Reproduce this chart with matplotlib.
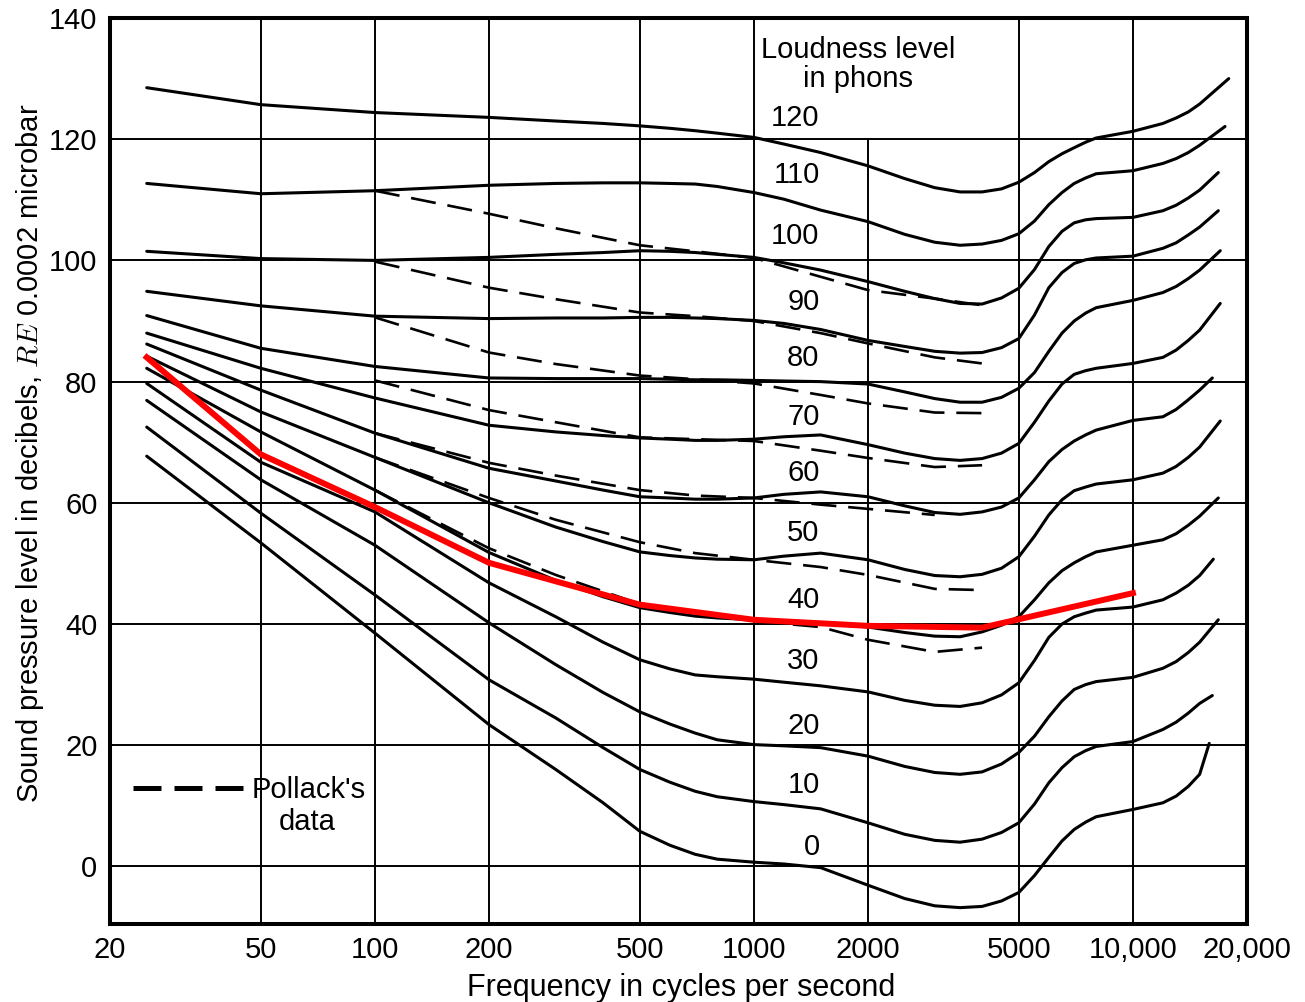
import matplotlib
matplotlib.use("Agg")
import matplotlib.pyplot as plt
from matplotlib.lines import Line2D

plt.rcParams['font.family'] = ['Liberation Sans', 'DejaVu Sans']
plt.rcParams['mathtext.fontset'] = 'cm'

# --- equal-loudness contours, sound pressure level in dB re 0.0002 microbar ---
freq = [25, 50, 100, 200, 300, 400, 500, 600, 700, 800, 1000, 1200, 1500, 2000, 2500, 3000, 3500,
        4000, 4500, 5000, 5500, 6000, 6500, 7000, 7500, 8000, 10000, 12000, 13000, 14000, 15000]

phon_120 = [128.5, 125.7, 124.4, 123.6, 123.0, 122.6, 122.2, 121.8, 121.4, 121.0, 120.3, 119.2, 117.8, 115.6, 113.5,
            112.0, 111.3, 111.3, 111.8, 112.9, 114.5, 116.3, 117.6, 118.6, 119.5, 120.2, 121.3, 122.6, 123.5,
            124.5, 125.8]
phon_110 = [112.7, 111.0, 111.5, 112.4, 112.7, 112.8, 112.8, 112.7, 112.6, 112.2, 111.2, 110.1, 108.3, 106.4, 104.3,
            103.0, 102.5, 102.7, 103.3, 104.4, 106.5, 109.2, 111.2, 112.7, 113.6, 114.3, 114.8, 116.0, 116.8,
            117.8, 119.0]
phon_100 = [101.5, 100.3, 100.0, 100.5, 101.0, 101.3, 101.6, 101.5, 101.3, 101.0, 100.5, 99.6, 98.4, 96.5, 94.9,
            93.7, 92.9, 92.8, 93.8, 95.4, 98.5, 102.3, 104.8, 106.2, 106.7, 106.9, 107.1, 108.2, 109.1,
            110.3, 111.6]
phon_90 = [94.9, 92.5, 90.8, 90.4, 90.5, 90.5, 90.6, 90.6, 90.5, 90.4, 90.1, 89.6, 88.6, 86.8, 85.8,
           85.0, 84.7, 84.8, 85.6, 87.1, 91.0, 95.5, 98.0, 99.5, 100.1, 100.4, 100.7, 102.0, 102.9,
           104.2, 105.5]
phon_80 = [90.9, 85.5, 82.5, 80.6, 80.5, 80.5, 80.5, 80.4, 80.3, 80.3, 80.2, 80.1, 80.0, 79.6, 78.3,
           77.2, 76.6, 76.6, 77.4, 78.9, 81.5, 85.0, 88.0, 90.0, 91.3, 92.2, 93.4, 94.7, 95.7,
           97.0, 98.4]
phon_70 = [88.0, 82.2, 77.3, 72.8, 71.7, 71.1, 70.7, 70.5, 70.3, 70.3, 70.5, 70.9, 71.2, 69.6, 68.2,
           67.3, 67.0, 67.3, 68.2, 69.8, 73.3, 76.8, 79.6, 81.2, 81.8, 82.2, 83.0, 84.0, 85.2,
           86.8, 88.5]
phon_60 = [86.2, 78.6, 71.5, 65.7, 63.6, 62.1, 61.0, 60.8, 60.6, 60.6, 60.8, 61.4, 61.8, 61.0, 59.5,
           58.4, 58.1, 58.5, 59.3, 60.8, 63.8, 66.8, 68.8, 70.2, 71.2, 72.0, 73.6, 74.2, 75.4,
           77.0, 78.6]
phon_50 = [84.2, 75.0, 67.5, 60.0, 56.0, 53.6, 51.9, 51.3, 50.9, 50.7, 50.6, 51.2, 51.7, 50.6, 49.0,
           48.0, 47.8, 48.2, 49.2, 51.1, 54.5, 58.0, 60.5, 62.0, 62.6, 63.1, 63.8, 64.9, 66.0,
           67.5, 69.2]
phon_40 = [82.2, 71.7, 62.1, 51.8, 47.2, 44.5, 42.7, 41.9, 41.3, 41.0, 40.7, 40.5, 40.2, 39.5, 38.6,
           38.0, 37.9, 38.7, 39.8, 41.2, 44.0, 46.8, 48.8, 50.1, 51.1, 51.9, 53.0, 53.9, 54.9,
           56.3, 57.8]
phon_30 = [79.7, 66.7, 58.5, 46.8, 41.2, 37.0, 34.1, 32.6, 31.6, 31.3, 30.9, 30.4, 29.8, 28.8, 27.4,
           26.6, 26.4, 27.0, 28.3, 30.3, 34.0, 37.8, 40.0, 41.2, 41.8, 42.3, 42.8, 44.0, 45.1,
           46.4, 48.0]
phon_20 = [76.9, 63.8, 53.0, 40.2, 33.3, 28.7, 25.5, 23.5, 22.0, 20.9, 20.1, 19.9, 19.6, 18.2, 16.5,
           15.5, 15.2, 15.6, 16.9, 18.8, 21.5, 24.7, 27.3, 29.2, 30.0, 30.5, 31.2, 32.7, 33.8,
           35.3, 37.0]
phon_10 = [72.5, 58.3, 44.8, 30.8, 24.5, 19.6, 16.0, 13.9, 12.4, 11.5, 10.7, 10.2, 9.5, 7.2, 5.3,
           4.3, 4.0, 4.5, 5.6, 7.2, 10.3, 13.8, 16.3, 18.1, 19.1, 19.8, 20.6, 22.6, 23.8,
           25.3, 26.9]
phon_0 = [67.7, 53.4, 38.5, 23.4, 16.0, 10.5, 5.8, 3.5, 2.0, 1.2, 0.7, 0.4, -0.2, -3.1, -5.3,
          -6.5, -6.8, -6.6, -5.7, -4.3, -1.5, 1.5, 4.2, 6.1, 7.3, 8.2, 9.4, 10.5, 11.6,
          13.2, 15.2]

levels = [120, 110, 100, 90, 80, 70, 60, 50, 40, 30, 20, 10, 0]
# each contour stops at its own upper frequency
end_freq = [17900, 17500, 16800, 16800, 17000, 17000, 16200, 17000, 16800, 16300, 16800, 16200, 15900]
end_spl = [130.0, 122.1, 114.5, 108.2, 101.6, 92.9, 80.6, 73.5, 60.8, 50.7, 40.7, 28.2, 20.3]

contours = [phon_120, phon_110, phon_100, phon_90, phon_80, phon_70, phon_60,
            phon_50, phon_40, phon_30, phon_20, phon_10, phon_0]

# Pollack's data (dashed), 100 Hz to 4000 Hz
pollack_freq = [100, 200, 300, 500, 700, 1000, 1500, 2000, 3000, 4000]
pollack_100 = [111.5, 107.7, 105.3, 102.5, 101.5, 100.4, 97.3, 95.1, 93.7, 92.6]
pollack_90 = [99.8, 95.5, 93.6, 91.4, 90.8, 90.0, 88.0, 86.3, 84.0, 83.0]
pollack_80 = [90.6, 84.8, 82.9, 81.0, 80.4, 79.7, 77.8, 76.4, 74.9, 74.8]
pollack_70 = [80.2, 75.3, 73.3, 70.8, 70.5, 70.2, 68.6, 67.4, 65.9, 66.2]
pollack_60 = [71.5, 66.6, 64.5, 62.1, 61.2, 60.8, 59.7, 59.0, 58.0]
pollack_50 = [67.5, 60.8, 57.2, 53.5, 51.7, 50.6, 49.4, 48.1, 45.8, 45.6]
pollack_40 = [62.1, 52.5, 48.1, 43.3, 42.0, 40.5, 39.5, 37.4, 35.4, 36.1]
pollack = [pollack_100, pollack_90, pollack_80, pollack_70, pollack_60, pollack_50, pollack_40]

# overlaid red curve
red_freq = [25, 50, 100, 200, 500, 1000, 2000, 4000, 10000]
red_spl = [84.0, 68.0, 59.3, 50.1, 43.2, 40.7, 39.7, 39.4, 45.1]

xtick_freq = [20, 50, 100, 200, 500, 1000, 2000, 5000, 10000, 20000]
xtick_text = ['20', '50', '100', '200', '500', '1000', '2000', '5000', '10,000', '20,000']
ytick_db = [0, 20, 40, 60, 80, 100, 120, 140]

# level labels placed to the right of the 1000 cps line
label_y = [123.5, 114.1, 104.0, 93.1, 83.9, 74.1, 64.9, 55.0, 44.0, 33.9, 23.2, 13.4, 3.2]

FS = 21
fig = plt.figure(figsize=(13.05, 10.02), dpi=100)
ax = fig.add_axes([110 / 1305, 78 / 1002, 1137 / 1305, 906 / 1002])
ax.set_xscale('log')
ax.set_xlim(20, 20000)
ax.set_ylim(-9.5, 140)

# grid: the 2000 cps line stops under the legend heading
for f in xtick_freq[1:-1]:
    top = 120 if f == 2000 else 140
    ax.vlines(f, -9.5, top, color='k', lw=1.4, zorder=1)
ax.hlines([0, 20, 40, 60, 80, 100, 120], 20, 20000, color='k', lw=1.4, zorder=1)

for lev, spl, fe, se in zip(levels, contours, end_freq, end_spl):
    ax.plot(freq + [fe], spl + [se], color='k', lw=2.2, solid_capstyle='round',
            solid_joinstyle='round', zorder=3)

for spl in pollack:
    ax.plot(pollack_freq[:len(spl)], spl, color='k', lw=1.9, ls=(0, (9.5, 4.5)), zorder=3)

ax.plot(red_freq, red_spl, color='#ff0000', lw=4.3, zorder=5)

for lev, y in zip(levels, label_y):
    ax.text(1490, y, str(lev), fontsize=FS, ha='right', va='center', zorder=4)
ax.text(1883, 132.4, 'Loudness level\nin phons', fontsize=FS, ha='center', va='center',
        multialignment='center', linespacing=1.05, zorder=4)

key = Line2D([], [], color='k', lw=3.6, ls=(0, (5.6, 2.6)))
leg = ax.legend([key], ["Pollack's"], loc='center left', bbox_to_anchor=(0.020, 0.148),
                frameon=False, fontsize=FS, handlelength=3.84, handletextpad=0.25,
                borderpad=0, borderaxespad=0)
ax.text(0.173, 0.113, 'data', transform=ax.transAxes, fontsize=FS, ha='center', va='center')

ax.set_xticks(xtick_freq)
ax.set_xticklabels(xtick_text)
ax.xaxis.set_minor_locator(matplotlib.ticker.NullLocator())
ax.set_yticks(ytick_db)
ax.tick_params(length=0, labelsize=FS)
ax.tick_params(axis='x', pad=9)
ax.tick_params(axis='y', pad=9)

for s in ax.spines.values():
    s.set_linewidth(2.9)

ax.set_xlabel('Frequency in cycles per second', fontsize=22)
ax.set_ylabel('Sound pressure level in decibels, $RE$ 0.0002 microbar', fontsize=21)
ax.xaxis.set_label_coords(0.502, -0.054)
ax.yaxis.set_label_coords(-0.056, 0.52)

fig.savefig('out.png', dpi=100, facecolor='white')
